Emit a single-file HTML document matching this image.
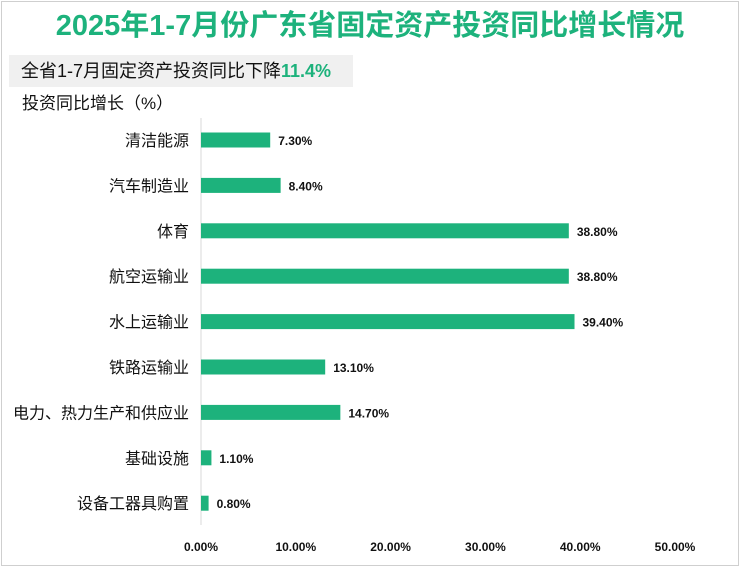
<!DOCTYPE html>
<html><head><meta charset="utf-8"><style>
body{margin:0;width:740px;height:567px;background:#fff;overflow:hidden;font-family:"Liberation Sans","Noto Sans CJK SC",sans-serif}
#frame{position:absolute;left:1px;top:1px;width:736px;height:563px;border:1px solid #cfcfcf}
#title{position:absolute;left:0;width:740px;top:8px;text-align:center;font-size:29px;font-weight:bold;color:#1db27c;line-height:36px}
#sub{position:absolute;left:9px;top:55px;width:344px;height:32px;background:#f0f0f0;font-size:18px;line-height:32px;padding-left:12px;box-sizing:border-box;color:#111}
#sub span{color:#1db27c;font-weight:bold}
#ylab{position:absolute;left:22px;top:89px;font-size:17px;color:#111}
</style></head><body>
<div id="frame"></div>
<div id="title">2025年1-7月份广东省固定资产投资同比增长情况</div>
<div id="sub">全省1-7月固定资产投资同比下降<span>11.4%</span></div>
<div id="ylab">投资同比增长（%）</div>
<svg id="chart" width="740" height="567" style="position:absolute;left:0;top:0"></svg>
<script>
const categories=["清洁能源","汽车制造业","体育","航空运输业","水上运输业","铁路运输业","电力、热力生产和供应业","基础设施","设备工器具购置"];
const values=[7.3,8.4,38.8,38.8,39.4,13.1,14.7,1.1,0.8];
const ticks=[0,10,20,30,40,50];
const x0=201,pxPer=9.48,y0=140,step=45.4,bh=15;
const xs=v=>x0+v*pxPer, ys=i=>y0+i*step;
const svg=document.getElementById('chart'),NS="http://www.w3.org/2000/svg";
function mk(t,a,txt){const e=document.createElementNS(NS,t);for(const k in a)e.setAttribute(k,a[k]);if(txt!==undefined)e.textContent=txt;svg.appendChild(e);return e;}
const ax=mk('line',{x1:x0,x2:x0,y1:118,y2:525,stroke:'#d9d9d9','stroke-width':1});


categories.forEach((c,i)=>{
 const y=ys(i);
 const r=mk('rect',{x:x0,y:y-bh/2,width:xs(values[i])-x0,height:bh,fill:'#1db27c'});
 
 
 const l=mk('text',{x:189,y:y+6,'text-anchor':'end','font-size':16,fill:'#111'},c);
 
 
 const v=mk('text',{x:xs(values[i])+8,y:y+5,'font-size':12,fill:'#111','font-weight':'bold'},values[i].toFixed(2)+'%');
 
 
});
ticks.forEach(t=>{
 const e=mk('text',{x:xs(t),y:551,'text-anchor':'middle','font-size':12,fill:'#111','font-weight':'bold'},t.toFixed(2)+'%');
 
 
});
</script>
</body></html>
